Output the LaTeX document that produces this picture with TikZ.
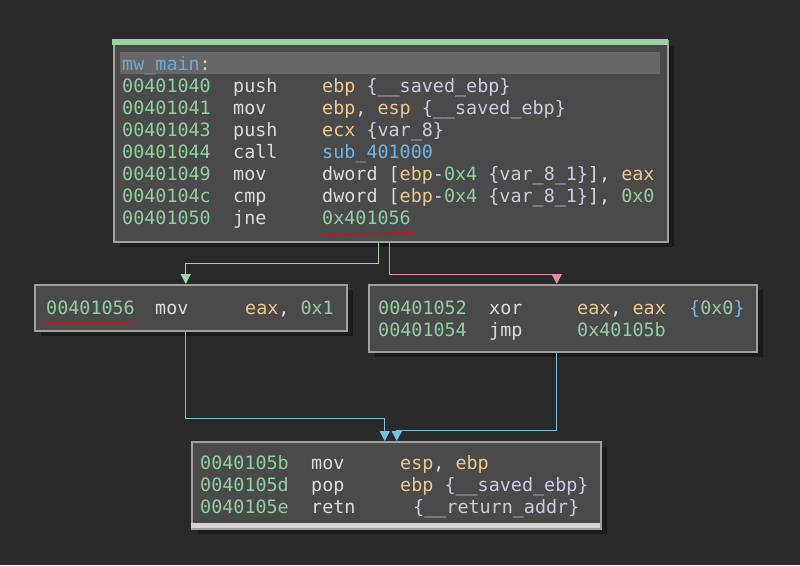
\documentclass[tikz,border=0pt]{standalone}
\usepackage{fontspec}
\setmonofont{DejaVu Sans Mono}
\usetikzlibrary{arrows.meta,shadows}
\definecolor{bgc}{HTML}{2A2A2A}
\definecolor{boxfill}{HTML}{4A4A4A}
\definecolor{boxline}{HTML}{A0A0A0}
\definecolor{shadowc}{HTML}{1B1B1B}
\definecolor{hdr}{HTML}{676767}
\definecolor{addrc}{HTML}{90D0A0}
\definecolor{mnc}{HTML}{DCDCDC}
\definecolor{regc}{HTML}{EEC890}
\definecolor{varc}{HTML}{C8CDE0}
\definecolor{fnc}{HTML}{74B4E4}
\definecolor{lblc}{HTML}{6AA8DC}
\definecolor{tbar}{HTML}{9ED0A8}
\definecolor{bbar}{HTML}{D4D4D4}
\definecolor{edgeg}{HTML}{9ED8A8}
\definecolor{edger}{HTML}{E0909A}
\definecolor{edgeb}{HTML}{78C0E8}
\definecolor{ulc}{HTML}{B81818}
\newcommand\cA[1]{\textcolor{addrc}{#1}}
\newcommand\cR[1]{\textcolor{regc}{#1}}
\newcommand\cV[1]{\textcolor{varc}{#1}}
\newcommand\cF[1]{\textcolor{fnc}{#1}}
\newcommand\cL[1]{\textcolor{lblc}{#1}}
\begin{document}
\begin{tikzpicture}[x=1pt,y=-1pt,
  block/.style={draw=boxline, line width=1.5pt, fill=boxfill, inner sep=0pt,
    anchor=north west,
    general shadow={fill=shadowc, draw=none, shadow xshift=6pt, shadow yshift=-5pt}},
  txt/.style={anchor=base west, inner sep=0pt,
    font=\ttfamily\fontsize{18.4}{22}\selectfont, text=mnc},
  adr/.style={txt, text=addrc},
  flow/.style={line width=1.3pt, -{Triangle[length=10pt,width=10pt]}}]
\fill[bgc] (0,0) rectangle (800,565);

% boxes
\node[block, minimum width=554pt, minimum height=201pt] (top) at (113,40) {};
\node[block, minimum width=312pt, minimum height=46pt] (left) at (34,284) {};
\node[block, minimum width=388pt, minimum height=67pt] (right) at (368,284) {};
\node[block, minimum width=409pt, minimum height=87pt] (bot) at (191,441) {};

% decorations
\fill[tbar] (112.25,39.25) rectangle (667.75,44.5);
\fill[hdr] (120,52) rectangle (660,74);
\fill[bbar] (191,523) rectangle (600,527.5);

% top block text
\node[txt, text=lblc] (lbl) at (122,70) {mw\_main\textcolor{regc}{:}};
\node[adr] (a1) at (122,92) {00401040};
\node[txt] (m1) at (233,92) {push};
\node[txt] (o1) at (322,92) {\cR{ebp} \cV{\{\_\_saved\_ebp\}}};
\node[adr] (a2) at (122,114) {00401041};
\node[txt] (m2) at (233,114) {mov};
\node[txt] (o2) at (322,114) {\cR{ebp}, \cR{esp} \cV{\{\_\_saved\_ebp\}}};
\node[adr] (a3) at (122,136) {00401043};
\node[txt] (m3) at (233,136) {push};
\node[txt] (o3) at (322,136) {\cR{ecx} \cV{\{var\_8\}}};
\node[adr] (a4) at (122,158) {00401044};
\node[txt] (m4) at (233,158) {call};
\node[txt] (o4) at (322,158) {\cF{sub\_401000}};
\node[adr] (a5) at (122,180) {00401049};
\node[txt] (m5) at (233,180) {mov};
\node[txt] (o5) at (322,180) {dword [\cR{ebp}-\cA{0x4} \cV{\{var\_8\_1\}}], \cR{eax}};
\node[adr] (a6) at (122,202) {0040104c};
\node[txt] (m6) at (233,202) {cmp};
\node[txt] (o6) at (322,202) {dword [\cR{ebp}-\cA{0x4} \cV{\{var\_8\_1\}}], \cA{0x0}};
\node[adr] (a7) at (122,224) {00401050};
\node[txt] (m7) at (233,224) {jne};
\node[txt] (o7) at (322,224) {\cA{0x401056}};
\draw[ulc, line width=1.6pt] (322,235) -- (413,232.5);

% left block text
\node[adr] (b1) at (46,314) {00401056};
\node[txt] (n1) at (155,314) {mov};
\node[txt] (p1) at (245,314) {\cR{eax}, \cA{0x1}};
\draw[ulc, line width=1.6pt] (44,322) -- (133,322);

% right block text
\node[adr] (c1) at (378,314) {00401052};
\node[txt] (q1) at (489,314) {xor};
\node[txt] (r1) at (577,314) {\cR{eax}, \cR{eax}};
\node[txt] (s1) at (689,314) {\cF{\{}\cA{0x0}\cF{\}}};
\node[adr] (c2) at (378,336) {00401054};
\node[txt] (q2) at (489,336) {jmp};
\node[txt] (r2) at (577,336) {\cA{0x40105b}};

% bottom block text
\node[adr] (d1) at (200,469) {0040105b};
\node[txt] (e1) at (311,469) {mov};
\node[txt] (f1) at (400,469) {\cR{esp}, \cR{ebp}};
\node[adr] (d2) at (200,491) {0040105d};
\node[txt] (e2) at (311,491) {pop};
\node[txt] (f2) at (400,491) {\cR{ebp} \cV{\{\_\_saved\_ebp\}}};
\node[adr] (d3) at (200,513) {0040105e};
\node[txt] (e3) at (311,513) {retn};
\node[txt] (f3) at (413,513) {\cV{\{\_\_return\_addr\}}};

% edges
\draw[flow, edgeg] ([xshift=-12pt]top.south) -- ++(0,21) -| ([xshift=-5pt]left.north);
\draw[flow, edger] ([xshift=-1pt]top.south) -- ++(0,32) -| ([xshift=-6pt]right.north);
\draw[flow, edgeb] ([xshift=-5pt]left.south) -- ++(0,87) -| ([xshift=-11.5pt]bot.north);
\draw[flow, edgeb] ([xshift=-6pt]right.south) -- ++(0,78) -| ([xshift=0.5pt]bot.north);
\end{tikzpicture}
\end{document}
